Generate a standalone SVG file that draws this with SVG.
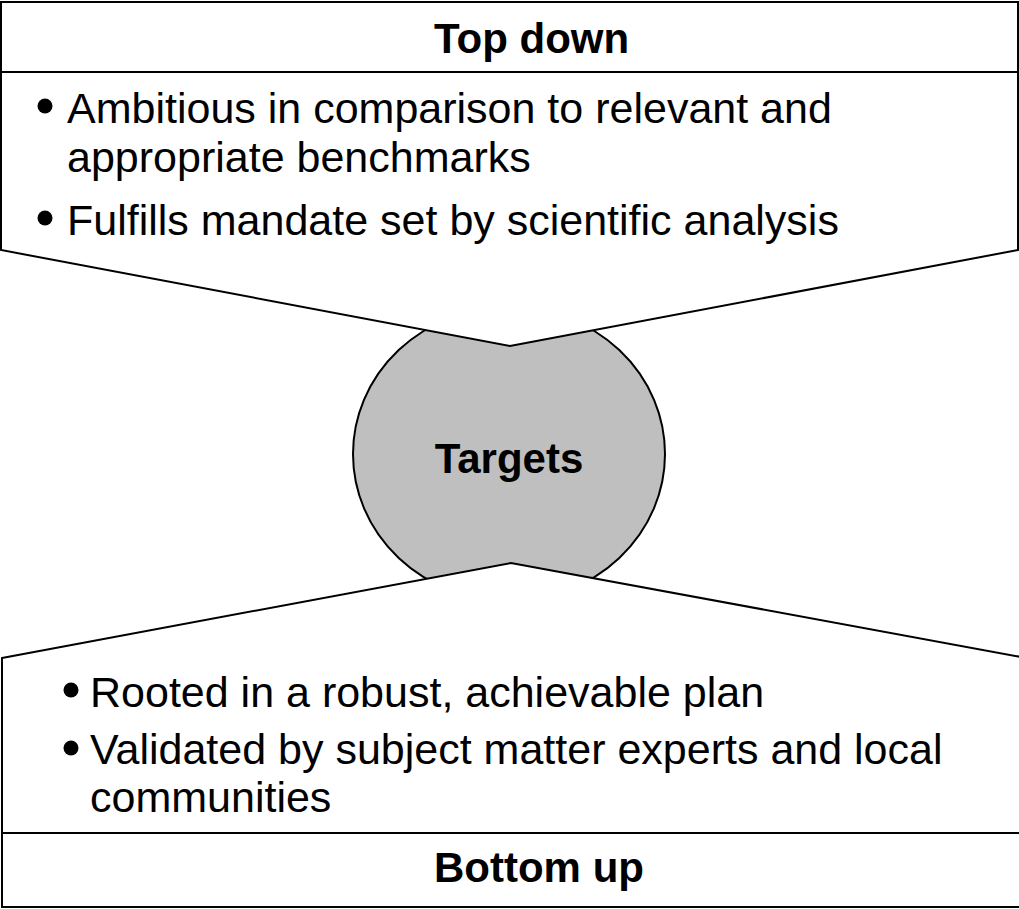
<svg xmlns="http://www.w3.org/2000/svg" width="1019" height="909" viewBox="0 0 1019 909">
  <style>
    .box { fill: #ffffff; stroke: #000000; stroke-width: 2; stroke-linejoin: miter; }
    .core { fill: #bfbfbf; stroke: #000000; stroke-width: 2; }
    .head { font-family: "Liberation Sans", Arial, sans-serif; font-size: 42px; font-weight: bold; fill: #000000; }
    .body { font-family: "Liberation Sans", Arial, sans-serif; font-size: 43px; fill: #000000; }
    .dot { fill: #000000; }
  </style>
  <rect width="1019" height="909" fill="#ffffff"/>
  <g id="targets">
    <ellipse class="core" cx="509" cy="454" rx="156" ry="147"/>
    <text class="head" x="509" y="473" text-anchor="middle">Targets</text>
  </g>
  <g id="top-down">
    <rect class="box" x="1" y="2" width="1017" height="70"/>
    <polygon class="box" points="1,72 1018,72 1018,250 510,346 1,250"/>
    <text class="head" x="434" y="53">Top down</text>
    <circle class="dot" cx="45" cy="106" r="7.5"/>
    <text class="body"><tspan x="67" y="123">Ambitious in comparison to relevant and</tspan><tspan x="67" y="172">appropriate benchmarks</tspan></text>
    <circle class="dot" cx="45" cy="218" r="7.5"/>
    <text class="body" x="67" y="235">Fulfills mandate set by scientific analysis</text>
  </g>
  <g id="bottom-up">
    <polygon class="box" points="2,658 511,563 1021,657 1021,833 2,833"/>
    <rect class="box" x="2" y="833" width="1019" height="74"/>
    <circle class="dot" cx="71" cy="690" r="7.5"/>
    <text class="body" x="90" y="707">Rooted in a robust, achievable plan</text>
    <circle class="dot" cx="71" cy="748" r="7.5"/>
    <text class="body"><tspan x="90" y="764">Validated by subject matter experts and local</tspan><tspan x="90" y="812">communities</tspan></text>
    <text class="head" x="434" y="882">Bottom up</text>
  </g>
</svg>
